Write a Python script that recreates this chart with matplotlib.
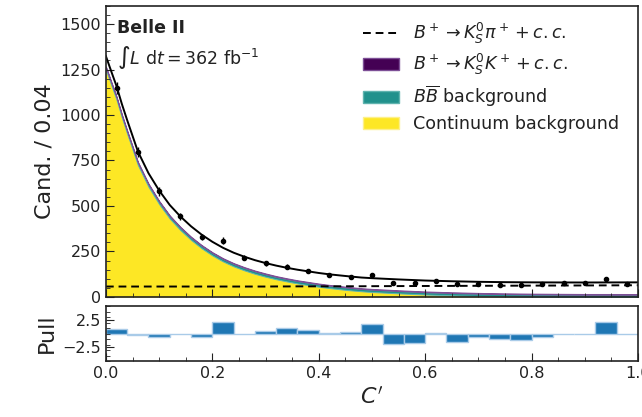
import numpy as np
import matplotlib
matplotlib.use("Agg")
import matplotlib.pyplot as plt
from matplotlib.patches import Patch
from matplotlib.lines import Line2D
from matplotlib.ticker import MultipleLocator

# ---- binned data (bin width 0.04) ----
bin_centers = [0.02, 0.06, 0.10, 0.14, 0.18, 0.22, 0.26, 0.30, 0.34, 0.38,
               0.42, 0.46, 0.50, 0.54, 0.58, 0.62, 0.66, 0.70, 0.74, 0.78,
               0.82, 0.86, 0.90, 0.94, 0.98]
counts = [1150, 797, 580, 442, 329, 310, 216, 185, 167, 143,
          123, 112, 123, 75, 75, 90, 72, 72, 68, 68,
          72, 79, 75, 97, 72]
count_err = [33.9, 28.2, 24.1, 21.0, 18.1, 17.6, 14.7, 13.6, 12.9, 12.0,
             11.1, 10.6, 11.1, 8.7, 8.7, 9.5, 8.5, 8.5, 8.2, 8.2,
             8.5, 8.9, 8.7, 9.8, 8.5]
pulls = [0.8, -0.3, -0.55, -0.05, -0.6, 2.1, -0.05, 0.4, 1.1, 0.6,
         0.1, 0.2, 1.7, -1.95, -1.7, 0.1, -1.5, -0.6, -1.0, -1.15,
         -0.55, 0.0, -0.05, 2.1, -0.05]

# ---- fit components ----
fit_x = [0.00, 0.01, 0.02, 0.03, 0.04, 0.06, 0.08, 0.10, 0.12, 0.14,
         0.16, 0.18, 0.20, 0.22, 0.24, 0.26, 0.28, 0.30, 0.32, 0.34,
         0.36, 0.38, 0.40, 0.42, 0.44, 0.46, 0.48, 0.50, 0.55, 0.60,
         0.65, 0.70, 0.75, 0.80, 0.85, 0.90, 0.95, 1.00]
continuum = [1248, 1165, 1083, 985, 896, 725, 605, 510, 430, 367,
             313, 267, 228, 195, 168, 146, 127, 111, 97, 85,
             74, 65, 56, 48.5, 42, 36, 31, 27, 19.5, 13,
             8.5, 5, 3, 1.5, 0.5, 0.2, 0.1, 0.0]
bbbar = [14, 14, 14, 14, 14, 14, 14, 14, 14, 14,
         14, 14, 14, 14, 14, 14, 14, 14, 13.5, 13.5,
         13.5, 13.5, 13.5, 13.5, 13.5, 13.5, 13, 13, 13, 13,
         13, 13, 12.5, 12.5, 12.5, 12, 12, 12]
ks_k = [4] * len(fit_x)
ks_pi = [57, 57, 57, 57, 57, 57, 57, 57, 57, 57,
         57, 57, 57, 57, 57, 57, 57, 57, 57.5, 57.5,
         58, 58, 58, 58, 58.5, 58.5, 58.5, 59, 59.5, 60,
         60.5, 61, 61.5, 62, 62.5, 63, 63.5, 64]

C_CONT = "#fde725"
C_BB = "#21918c"
C_KK = "#440154"

fx = np.array(fit_x)
s1 = np.array(continuum)
s2 = s1 + np.array(bbbar)
s3 = s2 + np.array(ks_k)
total = s3 + np.array(ks_pi)

fig = plt.figure(figsize=(6.42, 4.17), dpi=100)
ax = fig.add_axes([0.165, 0.288, 0.8288, 0.698])
axp = fig.add_axes([0.165, 0.134, 0.8288, 0.132])

ax.fill_between(fx, 0, s1, color=C_CONT, lw=0)
ax.fill_between(fx, s1, s2, facecolor=C_BB, edgecolor="#5fb3ae", lw=0.7)
ax.fill_between(fx, s2, s3, facecolor=C_KK, edgecolor="#7d4f96", lw=0.7)
ax.plot(fx, ks_pi, color="black", ls=(0, (4, 2.5)), lw=1.4)
ax.plot(fx, total, color="black", lw=1.4)
ax.errorbar(bin_centers, counts, yerr=count_err, fmt="o", color="black",
            ms=3.0, elinewidth=1.0, capsize=0)

ax.set_xlim(0, 1)
ax.set_ylim(0, 1600)
ax.yaxis.set_major_locator(MultipleLocator(250))
ax.yaxis.set_minor_locator(MultipleLocator(50))
ax.xaxis.set_major_locator(MultipleLocator(0.2))
ax.xaxis.set_minor_locator(MultipleLocator(0.05))
ax.tick_params(which="both", direction="in", top=False, right=False,
               labelsize=11.5, colors="#222222")
ax.tick_params(which="major", length=6)
ax.tick_params(which="minor", length=3)
ax.tick_params(axis="x", labelbottom=False)
ax.set_ylabel("Cand. / 0.04", fontsize=16, color="#222222")

ax.text(0.021, 0.955, "Belle II", transform=ax.transAxes, fontsize=12.5,
        fontweight="bold", va="top", ha="left", color="#222222")
ax.text(0.021, 0.87, r"$\int L\ \mathrm{d}t = 362\ \mathrm{fb}^{-1}$",
        transform=ax.transAxes, fontsize=12.5, va="top", ha="left",
        color="#222222")

handles = [
    Line2D([], [], color="black", ls=(0, (4, 2.5)), lw=1.4),
    Patch(facecolor=C_KK, edgecolor="#7d4f96"),
    Patch(facecolor=C_BB, edgecolor="#5fb3ae"),
    Patch(facecolor=C_CONT, edgecolor="#fdf08a"),
]
labels = [
    r"$B^+ \to K_S^0 \pi^+ + c.c.$",
    r"$B^+ \to K_S^0 K^+ + c.c.$",
    r"$B\overline{B}$ background",
    "Continuum background",
]
ax.legend(handles, labels, loc="upper right", frameon=False, fontsize=12.6,
          handlelength=2.1, handletextpad=0.8, labelspacing=0.36,
          borderaxespad=0.3, bbox_to_anchor=(0.988, 0.99),
          labelcolor="#222222")

# pull panel
edges = np.array(bin_centers) - 0.02
axp.bar(edges, pulls, width=0.04, align="edge", color="#1f77b4",
        edgecolor="#a9cbe8", lw=1.0)
axp.set_xlim(0, 1)
axp.set_ylim(-5, 5)
axp.set_yticks([-2.5, 2.5])
axp.yaxis.set_minor_locator(MultipleLocator(1.0))
axp.xaxis.set_major_locator(MultipleLocator(0.2))
axp.xaxis.set_minor_locator(MultipleLocator(0.05))
axp.tick_params(which="both", direction="in", top=False, right=False,
                labelsize=11.5, colors="#222222")
axp.tick_params(which="major", length=6)
axp.tick_params(which="minor", length=3)
axp.set_ylabel("Pull", fontsize=16, color="#222222")
axp.set_xlabel(r"$C'$", fontsize=16, color="#222222")

for a in (ax, axp):
    for sp in a.spines.values():
        sp.set_linewidth(1.2)
        sp.set_color("#222222")

fig.align_ylabels([ax, axp])
fig.savefig("out.png", dpi=100)
